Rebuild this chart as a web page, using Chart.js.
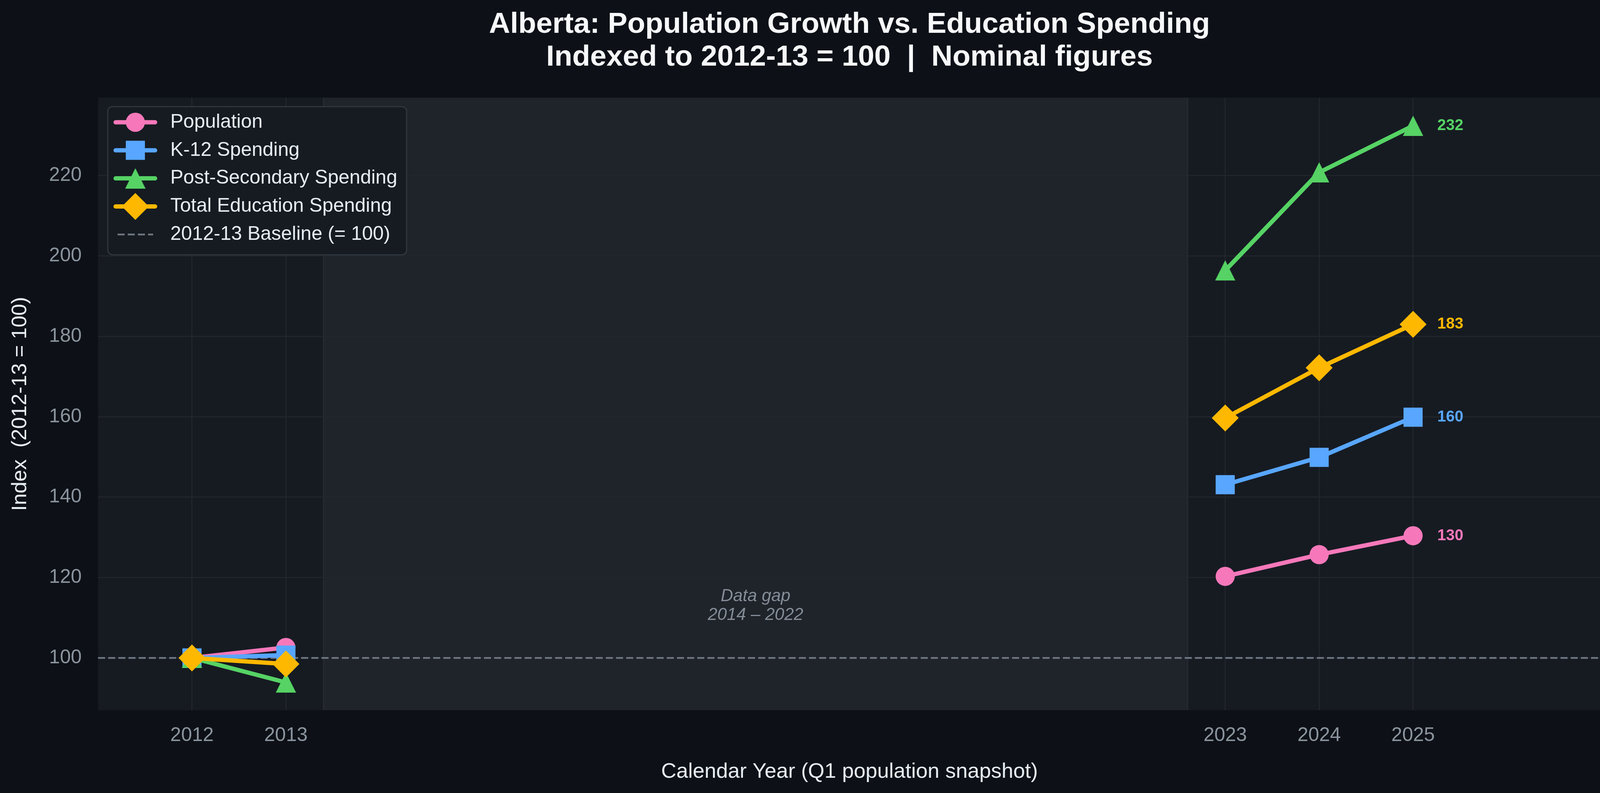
<!DOCTYPE html>
<html>
<head>
<meta charset="utf-8">
<title>Alberta: Population Growth vs. Education Spending</title>
<script src="https://cdn.jsdelivr.net/npm/chart.js"></script>
<style>
  html, body { margin: 0; padding: 0; background: #0d1117; }
  #chart { display: block; }
</style>
</head>
<body>
<canvas id="chart" width="4133" height="2030"></canvas>
<script>
// ---- data ----
const years = [2012, 2013, 2023, 2024, 2025];
const gapYear = 2018; // null point so the lines break across the data gap
const population = [100, 102.6, 120.3, 125.7, 130.4];
const k12Spending = [100, 100.7, 143.1, 149.9, 159.9];
const postSecondarySpending = [100, 93.9, 196.4, 220.8, 232.4];
const totalEducationSpending = [100, 98.5, 159.7, 172.2, 183.0];
const seriesLabels = ['Population', 'K-12 Spending', 'Post-Secondary Spending', 'Total Education Spending'];
const baselineLabel = '2012-13 Baseline (= 100)';
const baselineValue = 100;
const xTicks = [2012, 2013, 2023, 2024, 2025];
const yTicks = [100, 120, 140, 160, 180, 200, 220];
const gapSpan = [2013.4, 2022.6];
const gapText = ['Data gap', '2014 \u2013 2022'];
const gapTextValue = 113;

const FONT = "'Liberation Sans', Arial, Helvetica, sans-serif";
Chart.defaults.font.family = FONT;
Chart.defaults.color = '#8b949e';

const colors = {
    pop: '#f778ba',
    k12: '#58a6ff',
    post: '#56d364',
    total: '#ffb800',
    base: '#6e7681',
};

// matplotlib-like '^' marker (as wide as it is tall)
function triangleMarker(color, size) {
    const c = document.createElement('canvas');
    c.width = size;
    c.height = size;
    const g = c.getContext('2d');
    g.fillStyle = color;
    g.beginPath();
    g.moveTo(size / 2, 0);
    g.lineTo(size, size);
    g.lineTo(0, size);
    g.closePath();
    g.fill();
    return c;
}

function toPoints(values) {
    const pts = years.map((x, i) => ({ x: x, y: values[i] }));
    pts.splice(2, 0, { x: gapYear, y: null });
    return pts;
}

function series(label, values, color, style, radius, order) {
    return {
        label: label,
        data: toPoints(values),
        borderColor: color,
        backgroundColor: color,
        borderWidth: 11,
        borderJoinStyle: 'round',
        borderCapStyle: 'round',
        pointStyle: style,
        pointRadius: radius,
        pointBorderWidth: 0,
        pointBackgroundColor: color,
        spanGaps: false,
        tension: 0,
        order: order,
        endLabel: true,
    };
}

// background, plot face and the shaded gap
const backdrop = {
    id: 'backdrop',
    beforeDraw(chart) {
        const { ctx, chartArea: a, scales } = chart;
        ctx.save();
        ctx.fillStyle = '#0d1117';
        ctx.fillRect(0, 0, chart.width, chart.height);
        ctx.fillStyle = '#161b22';
        ctx.fillRect(a.left, a.top, a.right - a.left, a.bottom - a.top);
        const x0 = scales.x.getPixelForValue(gapSpan[0]);
        const x1 = scales.x.getPixelForValue(gapSpan[1]);
        ctx.fillStyle = '#1f232a';
        ctx.fillRect(x0, a.top, x1 - x0, a.bottom - a.top);
        ctx.strokeStyle = '#262a32';
        ctx.lineWidth = 3;
        ctx.beginPath();
        ctx.moveTo(x0, a.top); ctx.lineTo(x0, a.bottom);
        ctx.moveTo(x1, a.top); ctx.lineTo(x1, a.bottom);
        ctx.stroke();
        ctx.restore();
    },
    beforeDatasetsDraw(chart) {
        const { ctx, scales } = chart;
        const x = scales.x.getPixelForValue(gapYear);
        const y = scales.y.getPixelForValue(gapTextValue);
        ctx.save();
        ctx.fillStyle = '#848d97';
        ctx.font = 'italic 44px ' + FONT;
        ctx.textAlign = 'center';
        ctx.textBaseline = 'middle';
        ctx.fillText(gapText[0], x, y - 24);
        ctx.fillText(gapText[1], x, y + 24);
        ctx.restore();
    },
};

// value labels next to the last point of each series
const endLabels = {
    id: 'endLabels',
    afterDatasetsDraw(chart) {
        const { ctx } = chart;
        ctx.save();
        ctx.font = 'bold 40px ' + FONT;
        ctx.textAlign = 'left';
        ctx.textBaseline = 'middle';
        chart.data.datasets.forEach((ds, i) => {
            if (!ds.endLabel) return;
            const meta = chart.getDatasetMeta(i);
            const last = meta.data[meta.data.length - 1];
            const v = ds.data[ds.data.length - 1].y;
            ctx.fillStyle = ds.borderColor;
            ctx.fillText(String(Math.round(v)), last.x + 62, last.y);
        });
        ctx.restore();
    },
};

function drawMarker(ctx, style, r, x, y, color) {
    ctx.fillStyle = color;
    if (typeof style === 'object') {
        ctx.drawImage(style, x - style.width / 2, y - style.height / 2);
        return;
    }
    ctx.beginPath();
    if (style === 'circle') {
        ctx.arc(x, y, r, 0, Math.PI * 2);
    } else if (style === 'rect') {
        const s = r * Math.SQRT1_2;
        ctx.rect(x - s, y - s, 2 * s, 2 * s);
    } else if (style === 'rectRot') {
        ctx.moveTo(x - r, y); ctx.lineTo(x, y - r); ctx.lineTo(x + r, y); ctx.lineTo(x, y + r);
        ctx.closePath();
    }
    ctx.fill();
}

// legend box in the upper-left of the plot, line + marker per entry
const boxLegend = {
    id: 'boxLegend',
    afterDraw(chart) {
        const { ctx, chartArea: a } = chart;
        const items = chart.data.datasets.slice().sort((p, q) => (p.legendIndex - q.legendIndex));
        const bx = a.left + 25, by = a.top + 23;
        const rowH = 71.8, firstRow = by + 40;
        const lineX0 = bx + 20, lineX1 = bx + 121, textX = bx + 160;
        ctx.save();
        ctx.font = '50px ' + FONT;
        let maxW = 0;
        items.forEach(ds => { maxW = Math.max(maxW, ctx.measureText(ds.label).width); });
        const bw = textX - bx + maxW + 24;
        const bh = 40 + rowH * (items.length - 1) + 52;
        ctx.beginPath();
        ctx.roundRect(bx, by, bw, bh, 12);
        ctx.fillStyle = 'rgba(22, 27, 34, 0.92)';
        ctx.fill();
        ctx.lineWidth = 3;
        ctx.strokeStyle = '#30363d';
        ctx.stroke();

        items.forEach((ds, i) => {
            const y = firstRow + i * rowH;
            ctx.save();
            ctx.strokeStyle = ds.borderColor;
            ctx.lineWidth = ds.borderWidth;
            ctx.lineCap = ds.borderDash ? 'butt' : 'round';
            if (ds.borderDash) ctx.setLineDash(ds.borderDash);
            ctx.beginPath();
            ctx.moveTo(ds.borderDash ? lineX0 + 5 : lineX0, y);
            ctx.lineTo(ds.borderDash ? lineX1 - 5 : lineX1, y);
            ctx.stroke();
            ctx.restore();
            if (ds.pointRadius > 0) {
                drawMarker(ctx, ds.pointStyle, ds.pointRadius, (lineX0 + lineX1) / 2, y, ds.borderColor);
            }
            ctx.fillStyle = '#e6edf3';
            ctx.textAlign = 'left';
            ctx.textBaseline = 'middle';
            ctx.fillText(ds.label, textX, y);
        });
        ctx.restore();
    },
};

const datasets = [
    series(seriesLabels[0], population, colors.pop, 'circle', 24.5, 4),
    series(seriesLabels[1], k12Spending, colors.k12, 'rect', 34.6, 3),
    series(seriesLabels[2], postSecondarySpending, colors.post, triangleMarker(colors.post, 52), 26, 2),
    series(seriesLabels[3], totalEducationSpending, colors.total, 'rectRot', 34.5, 1),
    {
        label: baselineLabel,
        data: [{ x: 2011, y: baselineValue }, { x: 2027, y: baselineValue }],
        borderColor: colors.base,
        borderWidth: 4.5,
        borderDash: [18, 8],
        pointRadius: 0,
        order: 10,
        endLabel: false,
    },
];
datasets.forEach((d, i) => { d.legendIndex = i; });

const ctx = document.getElementById('chart');
const chart = new Chart(ctx, {
    type: 'line',
    data: { datasets: datasets },
    plugins: [backdrop, endLabels, boxLegend],
    options: {
        responsive: false,
        devicePixelRatio: 1,
        animation: false,
        events: [],
        layout: {
            padding: { left: 0, right: 32, top: 0, bottom: 0 },
        },
        plugins: {
            legend: { display: false },
            tooltip: { enabled: false },
            title: {
                display: true,
                fullSize: false, // centred over the plot area, like the reference
                text: ['Alberta: Population Growth vs. Education Spending', 'Indexed to 2012-13 = 100  |  Nominal figures'],
                color: '#f6f8fa',
                font: { size: 75, weight: 'bold', lineHeight: 1.12 },
                padding: { top: 21, bottom: 61 },
            },
        },
        scales: {
            x: {
                type: 'linear',
                min: 2011,
                max: 2027,
                afterFit(scale) { scale.height = 212; },
                afterBuildTicks(scale) { scale.ticks = xTicks.map(v => ({ value: v })); },
                grid: {
                    color: '#22272e',
                    lineWidth: 2.5,
                    drawTicks: false,
                },
                border: { display: false },
                ticks: {
                    font: { size: 50 },
                    color: '#8b949e',
                    padding: 35,
                    maxRotation: 0,
                    autoSkip: false,
                    callback: (v) => String(v),
                },
                title: {
                    display: true,
                    text: 'Calendar Year (Q1 population snapshot)',
                    color: '#e6edf3',
                    font: { size: 54 },
                    padding: { top: 0, bottom: 21 },
                },
            },
            y: {
                min: 87,
                max: 239.4,
                afterFit(scale) { scale.width = 251; },
                afterBuildTicks(scale) { scale.ticks = yTicks.map(v => ({ value: v })); },
                grid: {
                    color: '#22272e',
                    lineWidth: 2.5,
                    drawTicks: false,
                },
                border: { display: false },
                ticks: {
                    font: { size: 50 },
                    color: '#8b949e',
                    padding: 42,
                    callback: (v) => String(v),
                },
                title: {
                    display: true,
                    text: 'Index  (2012-13 = 100)',
                    color: '#e6edf3',
                    font: { size: 54 },
                    padding: { top: 20, bottom: 0 },
                },
            },
        },
    },
});
</script>
</body>
</html>
